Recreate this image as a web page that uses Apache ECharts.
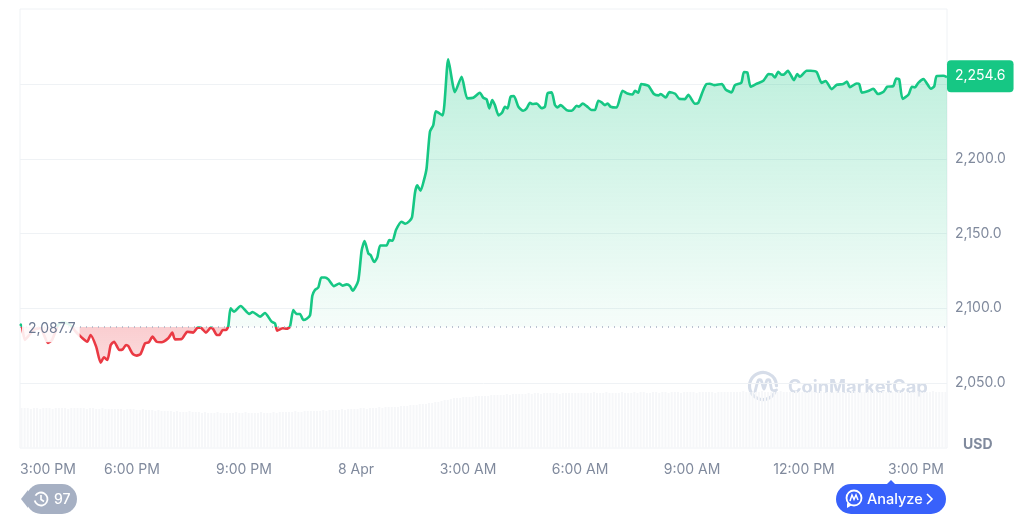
<!DOCTYPE html>
<html lang="en">
  <head>
    <meta charset="UTF-8" />
    <title>Price chart</title>
    <script src="https://cdn.jsdelivr.net/npm/echarts@6/dist/echarts.min.js"></script>
    <style>
      html, body { margin: 0; padding: 0; background: #fff; }
      #main { width: 1024px; height: 516px; }
    </style>
  </head>
  <body>
    <div id="main"></div>
    <script type="text/javascript">
      // hours since 3:00 PM
      const hours = [
        0, 0.05, 0.13, 0.27, 0.35, 0.54, 0.75, 0.86, 1.02, 1.15, 1.34, 1.5,
        1.65, 1.8, 1.89, 2.04, 2.16, 2.25, 2.34, 2.43, 2.52, 2.66, 2.75, 2.84, 2.9, 3.02, 3.13, 3.23,
        3.35, 3.45, 3.55, 3.66, 3.79, 3.97, 4.08, 4.15, 4.33, 4.48, 4.64, 4.76, 4.84, 4.98, 5.11, 5.18,
        5.27, 5.34, 5.43, 5.52, 5.58, 5.64, 5.73, 5.91, 6.14, 6.23, 6.43, 6.56, 6.74, 6.83, 6.89, 7.04,
        7.14, 7.23, 7.32, 7.41, 7.5, 7.59, 7.68, 7.77, 7.83, 7.9, 7.99, 8.07, 8.17, 8.26, 8.41, 8.55,
        8.64, 8.75, 8.84, 8.91, 9.06, 9.15, 9.23, 9.33, 9.39, 9.49, 9.57, 9.65, 9.82, 9.89, 9.98, 10.07,
        10.22, 10.32, 10.43, 10.5, 10.58, 10.64, 10.73, 10.82, 10.89, 10.98, 11.07, 11.14, 11.32, 11.47,
        11.65, 11.83, 11.98, 12.14, 12.28, 12.32, 12.41, 12.5, 12.57, 12.65, 12.72, 12.82, 12.91, 12.99,
        13.06, 13.14, 13.23, 13.35, 13.48, 13.57, 13.66, 13.73, 13.84, 13.97, 14.06, 14.13, 14.24, 14.33,
        14.4, 14.48, 14.64, 14.78, 14.91, 14.97, 15.07, 15.18, 15.31, 15.4, 15.49, 15.58, 15.67, 15.74,
        15.82, 15.98, 16.14, 16.27, 16.41, 16.47, 16.56, 16.64, 16.83, 16.98, 17.1, 17.16, 17.3, 17.39,
        17.55, 17.66, 17.81, 17.9, 18.08, 18.17, 18.3, 18.39, 18.48, 18.59, 18.8, 18.9, 19.06, 19.15,
        19.32, 19.39, 19.48, 19.57, 19.73, 19.91, 20.05, 20.14, 20.22, 20.31, 20.4, 20.47, 20.57, 20.73,
        20.82, 20.89, 21.07, 21.18, 21.34, 21.47, 21.58, 21.74, 21.88, 22.05, 22.15, 22.23, 22.41, 22.48,
        22.55, 22.72, 22.86, 22.98, 23.13, 23.23, 23.39, 23.47, 23.55, 23.64, 23.8, 23.89, 23.97, 24.06,
        24.2, 24.4, 24.49, 24.55, 24.73, 24.83
      ];
      const prices = [
        2089.5, 2088.1, 2078.8, 2082.8, 2085.5, 2086.8, 2076.8, 2078.8, 2088.8, 2090.8, 2088.8, 2084.1,
        2080.5, 2077.6, 2082.1, 2074.3, 2063.6, 2067.2, 2065.4, 2075.4, 2077.6, 2072.1, 2072.5, 2075.4, 2074.7, 2069.4, 2068.3, 2069.4,
        2076.5, 2077.2, 2081, 2077.6, 2077.2, 2079.9, 2083.7, 2079.2, 2079.4, 2084.3, 2083.7, 2087, 2087, 2083.7, 2087, 2085.9,
        2082.1, 2082.1, 2085.4, 2085.4, 2088.1, 2099.9, 2097.7, 2101.5, 2096.2, 2097.5, 2094.4, 2096.8, 2091, 2089.9, 2085, 2086.6,
        2086.3, 2087.6, 2098.8, 2096.1, 2096.1, 2092.1, 2093, 2095.4, 2108.4, 2112.2, 2113.9, 2120.6, 2120.6, 2119.3, 2114.8, 2116.6,
        2115.1, 2116, 2114.8, 2111.7, 2118.4, 2138.5, 2144.9, 2136.7, 2135.6, 2130.9, 2134, 2142, 2142, 2145.6, 2145.2, 2152.3,
        2157.9, 2156.5, 2158.3, 2160.8, 2177.3, 2182.2, 2178.6, 2185.7, 2193.5, 2218.1, 2222.5, 2231.7, 2229, 2266.5,
        2244.6, 2254.9, 2240.4, 2240.8, 2243.7, 2244.2, 2240.8, 2239.7, 2233.7, 2239.3, 2235.9, 2229, 2230.8, 2234.8,
        2233.7, 2241.5, 2241.9, 2234.8, 2232.1, 2233.7, 2237.5, 2236.6, 2237, 2233.9, 2234.8, 2243.7, 2244.4, 2235.9,
        2234.4, 2235.9, 2232.6, 2232.1, 2235.5, 2234.8, 2237, 2235.2, 2232.6, 2232.6, 2238.8, 2237.7, 2235.9, 2237,
        2234.8, 2234.3, 2245.5, 2243.7, 2243, 2245.5, 2244.2, 2250, 2248.8, 2243.3, 2242.4, 2243.3, 2241, 2244.6,
        2243.5, 2240.1, 2239.9, 2242.8, 2236.8, 2237.5, 2245.9, 2250, 2250.2, 2249.3, 2250, 2246.4, 2244.4, 2249.3,
        2250.8, 2258, 2257.8, 2248.2, 2250.2, 2252.2, 2256.6, 2256.4, 2254.4, 2258.2, 2256.2, 2256.4, 2258.9, 2252.6,
        2256.6, 2254.9, 2258.9, 2258.9, 2258, 2250.8, 2252, 2246.6, 2249.5, 2250, 2251.7, 2247.9, 2250.4, 2250,
        2244.2, 2245.3, 2246.8, 2243.3, 2244.8, 2248.2, 2248.6, 2253.7, 2253.1, 2240.1, 2243, 2248.2, 2247.7, 2250.8,
        2253.3, 2246.8, 2248.6, 2255.3, 2255.5, 2254.6
      ];
      // volume bars, one every five minutes
      const volumes = [
        20, 20, 20, 19.5, 20, 20, 19.5, 20, 20, 20, 19.5, 20, 20, 20, 20, 19.5, 20, 20, 20, 20,
        20, 19.5, 20, 20, 19.5, 19.5, 20, 19.5, 19.5, 19.5, 19.5, 19.5, 19.5, 19, 19.5, 19.5, 19.5, 19, 19, 19.5,
        19, 19, 19, 18.5, 19, 18.5, 18.5, 18.5, 18.5, 18, 18.5, 18, 18, 18, 18.5, 18, 18, 18, 17.5, 18,
        17.5, 17.5, 17.5, 18, 17.5, 17.5, 17.5, 17.5, 17.5, 18, 17.5, 17.5, 18, 17.5, 17.5, 17.5, 17.5, 18, 17.5, 17.5,
        17.5, 18, 17.5, 18, 18, 18, 18, 18, 18.5, 18, 18, 18.5, 18.5, 18.5, 18.5, 18.5, 18.5, 19, 18.5, 19,
        19, 19, 19, 19.5, 19, 19.5, 19.5, 19.5, 19.5, 20, 20, 19.5, 20, 20, 20, 20.5, 20, 20.5, 20.5, 20.5,
        20.5, 20.5, 21, 21, 21, 21.5, 21.5, 21.5, 22, 22, 22, 22.5, 22.5, 23, 23, 23.5, 24, 24, 24.5, 25,
        25, 25, 25.5, 25.5, 25.5, 25.5, 26, 26, 26, 26, 26, 26.5, 26.5, 26.5, 26.5, 26.5, 27, 26.5, 27, 27,
        27, 27, 27, 27.5, 27, 27.5, 27.5, 27, 27.5, 27.5, 27.5, 27.5, 27.5, 27, 27.5, 27.5, 27.5, 27.5, 27.5, 27.5,
        27.5, 27.5, 27.5, 27.5, 28, 27.5, 27.5, 27.5, 28, 27.5, 27.5, 27.5, 27.5, 28, 27.5, 27.5, 27.5, 28, 27.5, 28,
        28, 27.5, 27.5, 28, 28, 27.5, 28, 28, 27.5, 28, 28, 28, 27.5, 28, 28, 28, 28, 27.5, 28, 28,
        28, 28, 28, 27.5, 28, 28, 28, 28, 28, 28, 28, 28, 28.5, 28, 28, 28, 28, 28, 28.5, 28,
        28, 28, 28, 28, 28.5, 28, 28, 28, 28, 28.5, 28, 28, 28, 28, 28.5, 28, 28, 28.5, 28, 28,
        28, 28, 28.5, 28, 28, 28, 28, 28.5, 28.5, 28, 28, 28, 28, 28, 28.5, 28, 28, 28.5, 28, 28,
        28, 28, 28.5, 28, 28, 28, 28, 28, 28.5, 28, 28, 28, 28, 28.5, 28, 28, 28, 28
      ];
      const xLabels = ["3:00 PM", "6:00 PM", "9:00 PM", "8 Apr", "3:00 AM", "6:00 AM", "9:00 AM", "12:00 PM", "3:00 PM"];
      const yLabelTicks = [2050, 2100, 2150, 2200];
      const yLineTicks = [2050, 2100, 2150, 2200, 2250];
      const openPrice = 2087.7;
      const lastPrice = 2254.6;

      const green = "#16c784";
      const red = "#ea3943";
      const grey = "#808a9d";
      const gridGrey = "#eff2f5";
      const markGrey = "#d6dde9";
      const font = "Inter";

      var myChart = echarts.init(document.getElementById("main"));

      const fmt = function (v) {
        return v.toLocaleString("en-US", { minimumFractionDigits: 1, maximumFractionDigits: 1 });
      };

      var option = {
        animation: false,
        textStyle: { fontFamily: font },
        grid: { left: 20, right: 77, top: 9, bottom: 68, show: true, borderColor: gridGrey, borderWidth: 1 },
        visualMap: {
          show: false,
          seriesIndex: 0,
          dimension: 1,
          pieces: [
            { min: 2000, max: openPrice, color: red },
            { min: openPrice, max: 2300, color: green },
          ],
        },
        xAxis: [
          {
            type: "value",
            min: 0,
            max: 24.83,
            interval: 3,
            axisLine: { show: false },
            axisTick: { show: false },
            splitLine: { show: false },
            axisLabel: {
              color: grey,
              fontSize: 14,
              fontFamily: font,
              margin: 15,
              alignMinLabel: "left",
              showMaxLabel: false,
              formatter: function (v) {
                return xLabels[v / 3] || "";
              },
            },
          },
          { type: "category", show: false, data: volumes.map((v, i) => i) },
        ],
        yAxis: [
          {
            type: "value",
            position: "right",
            min: 2006.5,
            max: 2300.2,
            axisLine: { show: false },
            axisTick: { show: false, customValues: yLineTicks },
            splitLine: { show: true, lineStyle: { color: gridGrey, width: 1 } },
            axisLabel: {
              color: grey,
              fontSize: 14,
              fontFamily: font,
              margin: 8,
              customValues: yLabelTicks,
              formatter: fmt,
            },
          },
          { type: "value", show: false, min: 0, max: 219.5, splitLine: { show: false } },
        ],
        series: [
          {
            name: "Price",
            type: "line",
            data: hours.map((h, i) => [h, prices[i]]),
            showSymbol: false,
            smooth: 0.2,
            z: 3,
            lineStyle: { width: 2.6 },
            areaStyle: {
              origin: openPrice,
              opacity: 1,
              color: {
                type: "linear",
                global: true,
                x: 0,
                y: 59,
                x2: 0,
                y2: 365,
                colorStops: [
                  { offset: 0, color: "rgba(22,199,132,0.28)" },
                  { offset: 0.875, color: "rgba(22,199,132,0.04)" },
                  { offset: 0.875, color: "rgba(234,57,67,0.25)" },
                  { offset: 1, color: "rgba(234,57,67,0.18)" },
                ],
              },
            },
            endLabel: {
              show: true,
              distance: 0,
              offset: [0, -1],
              formatter: function () {
                return fmt(lastPrice);
              },
              color: "#fff",
              fontSize: 14,
              fontFamily: font,
              backgroundColor: green,
              borderRadius: 4,
              padding: [9, 8, 9, 8],
            },
            markLine: {
              silent: true,
              symbol: "none",
              lineStyle: { color: "#a6b0c3", type: [1, 5], width: 1.5 },
              label: {
                position: "insideStart",
                distance: 2,
                offset: [0, 2],
                formatter: function () {
                  return fmt(openPrice);
                },
                color: "#6d7a93",
                fontSize: 14,
                fontFamily: font,
                backgroundColor: "rgba(255,255,255,0.88)",
                padding: [7, 4, 6, 6],
              },
              data: [{ yAxis: openPrice }],
            },
          },
          {
            name: "Volume",
            type: "bar",
            xAxisIndex: 1,
            yAxisIndex: 1,
            data: volumes,
            barWidth: 2,
            silent: true,
            z: 1,
            itemStyle: { color: "#f6f7f9" },
          },
        ],
        graphic: [
          // USD
          { type: "text", left: 963, top: 438, style: { text: "USD", fill: grey, font: "700 14px Inter" } },
          // watermark
          {
            type: "arc",
            silent: true,
            shape: { cx: 763, cy: 386, r: 13.5, startAngle: 0.45, endAngle: Math.PI * 2 - 0.02, clockwise: true },
            style: { stroke: markGrey, fill: null, lineWidth: 3.2, lineCap: "round" },
          },
          {
            type: "polyline",
            silent: true,
            shape: { points: [[755, 392], [758.5, 380], [761, 380], [764, 389], [767, 380], [769.5, 380], [772, 390], [776.5, 390]], smooth: 0.3 },
            style: { stroke: markGrey, fill: null, lineWidth: 2.8, lineCap: "round", lineJoin: "round" },
          },
          { type: "text", left: 788, top: 379, style: { text: "CoinMarketCap", fill: markGrey, font: "700 18.3px Inter" } },
          // history pill
          { type: "rect", shape: { x: 26, y: 484, width: 51, height: 30, r: 15 }, style: { fill: "#a6b0c3" } },
          { type: "polygon", shape: { points: [[28, 490], [21, 499], [28, 508]] }, style: { fill: "#a6b0c3" } },
          {
            type: "arc",
            shape: { cx: 41, cy: 499, r: 6.5, startAngle: -2.6, endAngle: 2.9, clockwise: true },
            style: { stroke: "#fff", fill: null, lineWidth: 1.8 },
          },
          { type: "polyline", shape: { points: [[41, 495], [41, 499.5], [44, 501.5]] }, style: { stroke: "#fff", fill: null, lineWidth: 1.6 } },
          { type: "text", left: 54, top: 493, style: { text: "97", fill: "#fff", font: "500 14px Inter" } },
          // analyze button
          { type: "rect", shape: { x: 836, y: 484, width: 110, height: 30, r: 15 }, style: { fill: "#3861fb" } },
          { type: "polygon", shape: { points: [[886, 485], [891, 480], [896, 485]] }, style: { fill: "#3861fb" } },
          {
            type: "circle",
            shape: { cx: 854, cy: 498, r: 7.5 },
            style: { stroke: "#fff", fill: null, lineWidth: 1.8 },
          },
          {
            type: "polyline",
            shape: { points: [[850, 501], [852, 495], [854, 499.5], [856, 495], [858, 500]] },
            style: { stroke: "#fff", fill: null, lineWidth: 1.5 },
          },
          { type: "polygon", shape: { points: [[847, 503], [847, 508], [852, 505]] }, style: { fill: "#fff" } },
          { type: "text", left: 867, top: 492, style: { text: "Analyze", fill: "#fff", font: "500 14.5px Inter" } },
          {
            type: "polyline",
            shape: { points: [[927, 494], [932, 499], [927, 504]] },
            style: { stroke: "#fff", fill: null, lineWidth: 1.6 },
          },
        ],
      };
      myChart.setOption(option);
    </script>
  </body>
</html>
